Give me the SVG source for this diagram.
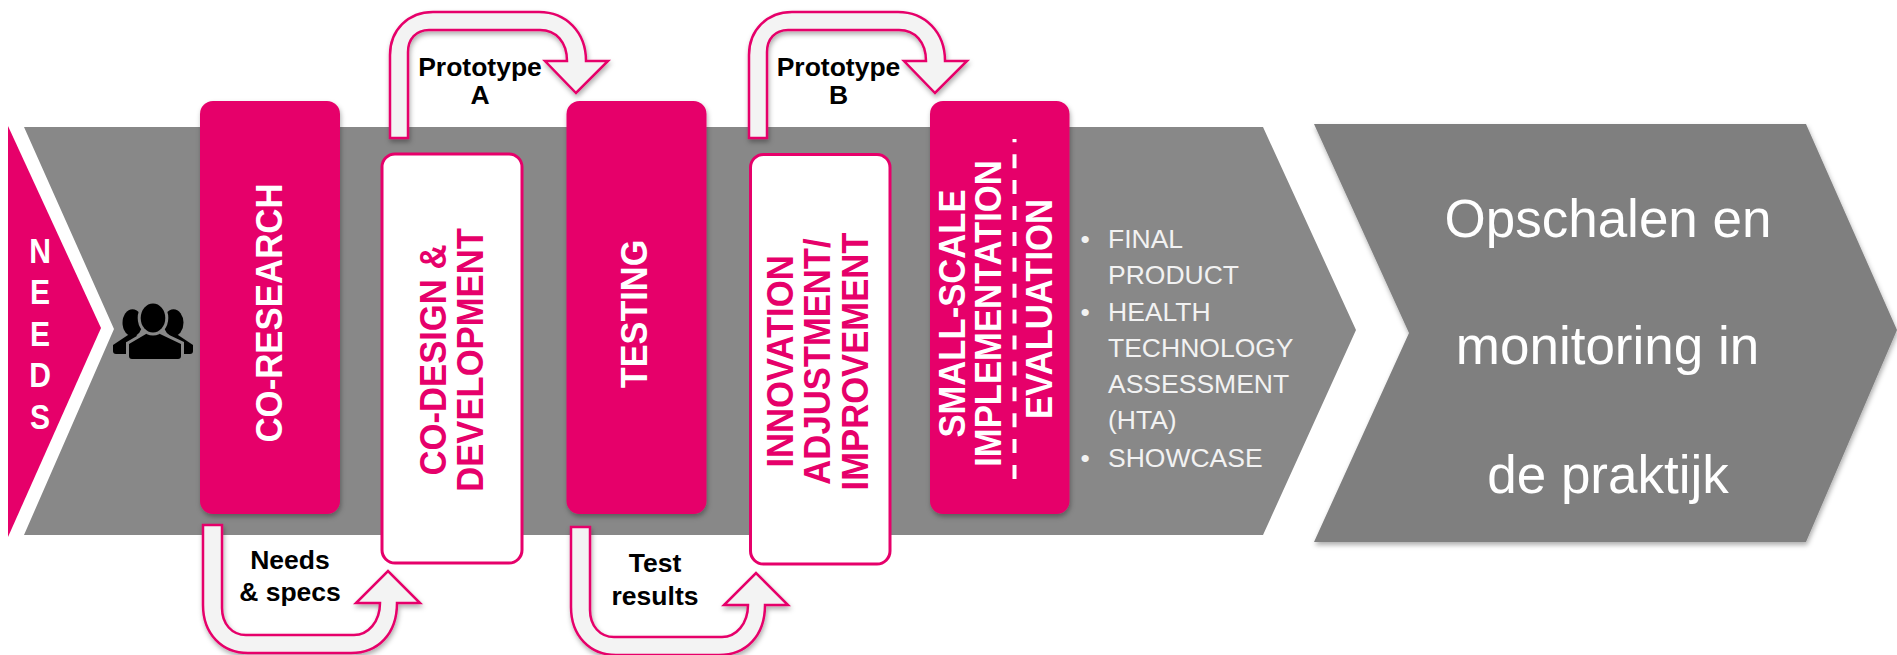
<svg xmlns="http://www.w3.org/2000/svg" width="1897" height="655" viewBox="0 0 1897 655">
<style>
.box{fill:#E6006A;filter:url(#sh)}
.wbox{fill:#fff;stroke:#E6006A;stroke-width:3}
.arrow{fill:#F3F3F3;stroke:#E6006A;stroke-width:2.5;stroke-linejoin:miter;filter:url(#sh)}
text{font-family:"Liberation Sans",Arial,sans-serif}
.v{font-size:35px;font-weight:700;text-anchor:middle}
.w{fill:#fff}
.p{fill:#E6006A}
.l{font-size:26.500px;font-weight:700;text-anchor:middle;fill:#000}
.li{font-size:26.500px;fill:#F2F2F2}
.big{font-size:53px;fill:#fff;text-anchor:middle}
</style>
<defs>
<filter id="sh" x="-20%" y="-20%" width="140%" height="140%"><feDropShadow dx="1" dy="3" stdDeviation="2.500" flood-color="#000" flood-opacity=".32"/></filter>
<path id="arrTop" d="M390 138V55C390 30 408 12 433 12H539C566 12 586 32 586 61H608L576 93L545 61H567C567 42 556 30 540 30H429C416 30 408 39 408 52V138Z"/>
<path id="arrBot" d="M203 525V605C203 634 222 653 248 653H351C378 653 397 634 397 603H420L388 571L356 603H380C380 622 368 635 354 635H246C232 635 222 624 222 608V525Z"/>
</defs>
<g id="band"><path d="M24 127H1263L1356 330L1263 535H24L114 329Z" fill="#888"/></g>
<g id="needs">
<path d="M8 126L101 328L8 537Z" fill="#E6006A"/>
<g class="w" style="font-size:35px;font-weight:700">
<text transform="translate(40 263) scale(.86 1)" text-anchor="middle">N</text>
<text transform="translate(40 304) scale(.86 1)" text-anchor="middle">E</text>
<text transform="translate(40 346) scale(.86 1)" text-anchor="middle">E</text>
<text transform="translate(40 387) scale(.86 1)" text-anchor="middle">D</text>
<text transform="translate(40 429) scale(.86 1)" text-anchor="middle">S</text>
</g>
</g>
<g id="people">
<ellipse cx="132.500" cy="322.700" rx="10" ry="13.500"/>
<ellipse cx="173.500" cy="322.700" rx="10" ry="13.500"/>
<path d="M113 345L128 335H136L150 345V354H116Q113 354 113 351Z"/>
<path d="M193 345L178 335H170L156 345V354H190Q193 354 193 351Z"/>
<path d="M129 344L146 334V328H160V334L181 344V356Q181 359 178 359H132Q129 359 129 356Z" stroke="#888" stroke-width="6" paint-order="stroke"/>
<ellipse cx="153" cy="318" rx="12.300" ry="14.500" stroke="#888" stroke-width="6" paint-order="stroke"/>
</g>
<g id="co-research"><rect class="box" x="200" y="101" width="140" height="413" rx="13"/>
<text class="v w" transform="translate(281.500 313) rotate(-90) scale(.995 1.060)">CO-RESEARCH</text></g>
<g id="co-design"><rect class="wbox" x="382" y="154" width="140" height="409" rx="13"/>
<text class="v p" transform="translate(446 360) rotate(-90) scale(.990 1.060)">CO-DESIGN &amp;</text>
<text class="v p" transform="translate(483 360) rotate(-90) scale(.990 1.060)">DEVELOPMENT</text></g>
<g id="testing"><rect class="box" x="566.500" y="101" width="140" height="413" rx="13"/>
<text class="v w" transform="translate(647 314) rotate(-90) scale(.980 1.060)">TESTING</text></g>
<g id="innovation"><rect class="wbox" x="750.500" y="154.500" width="139.500" height="409.500" rx="13"/>
<text class="v p" transform="translate(793 361.500) rotate(-90) scale(.990 1.060)">INNOVATION</text>
<text class="v p" transform="translate(830 361.500) rotate(-90) scale(.990 1.060)">ADJUSTMENT/</text>
<text class="v p" transform="translate(868 361.500) rotate(-90) scale(.990 1.060)">IMPROVEMENT</text></g>
<g id="small-scale"><rect class="box" x="930" y="101" width="139.500" height="413" rx="13"/>
<text class="v w" transform="translate(964.500 313.500) rotate(-90) scale(.990 1.060)">SMALL-SCALE</text>
<text class="v w" transform="translate(1001 313.500) rotate(-90) scale(.990 1.060)">IMPLEMENTATION</text>
<line x1="1014.500" y1="479" x2="1014.500" y2="139" stroke="#fff" stroke-width="4" stroke-dasharray="14 11.900"/>
<text class="v w" transform="translate(1052 309) rotate(-90) scale(.990 1.060)">EVALUATION</text></g>
<g id="connectors">
<use href="#arrTop" class="arrow"/>
<use href="#arrTop" class="arrow" transform="translate(359 0)"/>
<use href="#arrBot" class="arrow"/>
<use href="#arrBot" class="arrow" transform="translate(368 2)"/>
</g>
<g id="label-prototype-a"><text class="l" x="480" y="76">Prototype</text><text class="l" x="480" y="104">A</text></g>
<g id="label-prototype-b"><text class="l" x="838.500" y="76">Prototype</text><text class="l" x="838.500" y="104">B</text></g>
<g id="label-needs-specs"><text class="l" x="290" y="569">Needs</text><text class="l" x="290" y="601">&amp; specs</text></g>
<g id="label-test-results"><text class="l" x="655" y="572">Test</text><text class="l" x="655" y="605">results</text></g>
<g id="outcomes">
<text class="li" x="1080.500" y="248">•</text><text class="li" x="1108" y="248">FINAL</text>
<text class="li" x="1108" y="284">PRODUCT</text>
<text class="li" x="1080.500" y="321">•</text><text class="li" x="1108" y="321">HEALTH</text>
<text class="li" x="1108" y="357">TECHNOLOGY</text>
<text class="li" x="1108" y="393">ASSESSMENT</text>
<text class="li" x="1108" y="429">(HTA)</text>
<text class="li" x="1080.500" y="467">•</text><text class="li" x="1108" y="467">SHOWCASE</text>
</g>
<g id="opschalen">
<path d="M1314 124H1806L1897 330L1806 542H1314L1409 333Z" fill="#7F7F7F" filter="url(#sh)"/>
<text class="big" x="1608" y="237">Opschalen en</text>
<text class="big" x="1607.500" y="364">monitoring in</text>
<text class="big" x="1608" y="493">de praktijk</text>
</g>
</svg>
